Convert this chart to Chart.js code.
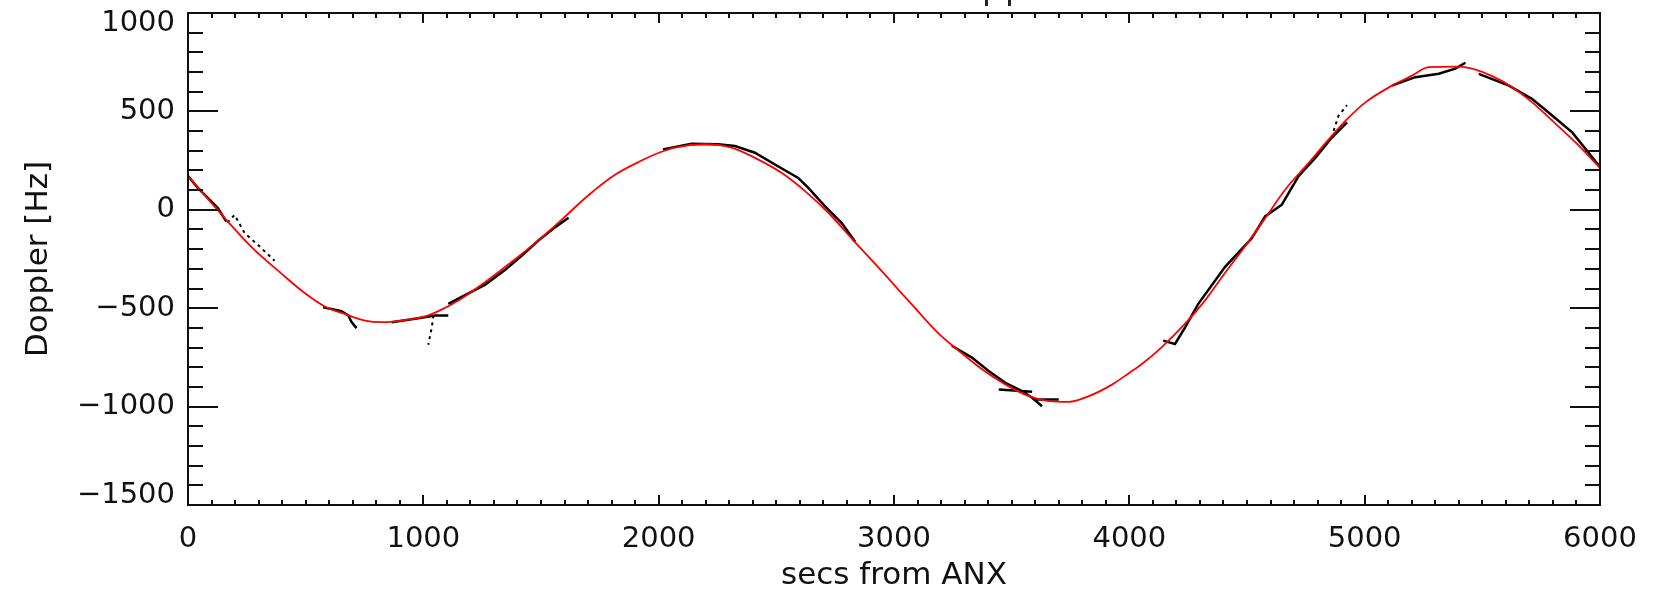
<!DOCTYPE html>
<html>
<head>
<meta charset="utf-8">
<script src="https://cdn.jsdelivr.net/npm/chart.js@4/dist/chart.umd.min.js"></script>
<style>
  html, body { margin: 0; padding: 0; background: #fff; }
  canvas { display: block; }
</style>
</head>
<body>
<canvas id="c" width="1653" height="607"></canvas>
<script>
// ---- axis settings ----
const X_MIN = 0, X_MAX = 6000, X_MAJOR = 1000, X_MINOR = 100;
const Y_MIN = -1500, Y_MAX = 1000, Y_MAJOR = 500, Y_MINOR = 100;
const X_TITLE = 'secs from ANX';
const Y_TITLE = 'Doppler [Hz]';

// ---- model Doppler curve (red) ----
const modelT = [0,163,269,397,496,581,666,752,823,908,1007,1064,1149,1263,1376,1490,1603,1688,1816,1930,
  2001,2068,2196,2309,2409,2522,2622,2721,2835,2920,2977,3090,3189,3275,3374,3473,3573,3658,3743,3828,3928,
  3998,4052,4137,4236,4322,4407,4492,4577,4662,4762,4847,4918,5003,5116,5201,5272,5400,5457,5542,5627,5712,
  5798,5897,6000];
const modelD = [172,-51,-188,-324,-423,-491,-529,-563,-571,-563,-542,-515,-461,-367,-264,-154,-34,60,179,252,
  290,316,333,316,264,188,95,-15,-165,-275,-350,-500,-628,-716,-810,-887,-947,-972,-976,-947,-887,
  -830,-785,-699,-580,-460,-320,-185,-43,102,239,358,452,546,631,682,725,728,717,679,623,546,
  452,341,213];

// ---- measured Doppler (black, solid segments separated by null) ----
const measT = [0,42,84,127,163, null,
  574,652,681,695,716, null,
  865,979,1050,1106, null,
  1106,1263,1348,1419,1490,1561,1617, null,
  2018,2139,2253,2324,2409,2494,2593,2636,2707,2778,2835, null,
  3246,3331,3402,3473,3544,3587,3629, null,
  3445,3587, null,
  3601,3700, null,
  4144,4194,4237,4293,4407,4520,4577,4648,4719,4790,4861,4925, null,
  5116,5215,5315,5385,5428, null,
  5485,5613,5712,5798,5883,6003];
const measD = [171,111,60,9,-60, null,
  -495,-515,-537,-571,-601, null,
  -571,-551,-537,-537, null,
  -478,-380,-305,-232,-155,-88,-40, null,
  307,336,333,324,290,230,162,111,17,-68,-162, null,
  -691,-751,-819,-879,-921,-955,-998, null,
  -913,-925, null,
  -964,-964, null,
  -665,-682,-597,-478,-290,-145,-34,26,171,264,367,444, null,
  631,674,691,717,747, null,
  691,631,563,478,392,213];

// ---- measured Doppler (black, dotted/dashed pieces) ----
const dotT = [167,198,241,298,368, null, 1043,1036,1021, null, 4868,4889,4925];
const dotD = [-65,-26,-119,-179,-259, null, -537,-597,-686, null, 401,478,532];

function toPoints(xs, ys) {
  return xs.map((v, i) => (v === null ? { x: null, y: null } : { x: v, y: ys[i] }));
}
function fmt(v) { return v < 0 ? '\u2212' + Math.abs(v) : String(v); }

const FONT = 'DejaVu Sans';

const frameTicks = {
  id: 'frameTicks',
  afterDatasetsDraw(chart) {
    const { ctx, chartArea: a, scales } = chart;
    const xs = scales.x, ys = scales.y;
    ctx.save();
    ctx.strokeStyle = '#111';
    ctx.lineWidth = 2;
    ctx.strokeRect(a.left, a.top, a.right - a.left, a.bottom - a.top);
    ctx.beginPath();
    for (let v = X_MIN; v <= X_MAX; v += X_MINOR) {
      const p = Math.round(xs.getPixelForValue(v));
      const len = (v % X_MAJOR === 0) ? 10 : 5;
      ctx.moveTo(p, a.bottom); ctx.lineTo(p, a.bottom - len);
      ctx.moveTo(p, a.top); ctx.lineTo(p, a.top + len);
    }
    for (let v = Y_MIN; v <= Y_MAX; v += Y_MINOR) {
      const p = Math.round(ys.getPixelForValue(v));
      const len = (v % Y_MAJOR === 0) ? 30 : 15;
      ctx.moveTo(a.left, p); ctx.lineTo(a.left + len, p);
      ctx.moveTo(a.right, p); ctx.lineTo(a.right - len, p);
    }
    ctx.stroke();
    // descenders of the clipped title above the plot
    ctx.fillStyle = '#222';
    ctx.fillRect(985, 0, 3, 6);
    ctx.fillRect(1008, 0, 3, 6);
    ctx.restore();
  }
};

new Chart(document.getElementById('c'), {
  type: 'scatter',
  data: {
    datasets: [
      {
        label: 'model',
        data: toPoints(modelT, modelD),
        showLine: true,
        borderColor: '#ff0000',
        borderWidth: 1.8,
        pointRadius: 0,
        cubicInterpolationMode: 'monotone',
        order: 0
      },
      {
        label: 'measured',
        data: toPoints(measT, measD),
        showLine: true,
        spanGaps: false,
        borderColor: '#000',
        borderWidth: 2.5,
        pointRadius: 0,
        tension: 0,
        order: 1
      },
      {
        label: 'measured (sparse)',
        data: toPoints(dotT, dotD),
        showLine: true,
        spanGaps: false,
        borderColor: '#000',
        borderWidth: 2,
        borderDash: [3, 4],
        pointRadius: 0,
        tension: 0,
        order: 2
      }
    ]
  },
  options: {
    responsive: false,
    animation: false,
    devicePixelRatio: 1,
    layout: { padding: { left: 0, top: 13, right: 53, bottom: 0 } },
    plugins: { legend: { display: false }, tooltip: { enabled: false } },
    scales: {
      x: {
        type: 'linear',
        min: X_MIN, max: X_MAX,
        grid: { display: false, drawTicks: false },
        border: { display: false },
        ticks: {
          stepSize: X_MAJOR,
          maxRotation: 0,
          autoSkip: false,
          padding: 17,
          color: '#111',
          font: { family: FONT, size: 29 },
          callback: (v) => fmt(v)
        },
        title: {
          display: true,
          text: X_TITLE,
          color: '#111',
          font: { family: FONT, size: 31 },
          padding: { top: 0, bottom: 12 }
        },
        afterFit: (s) => { s.height = 102; s.paddingLeft = 0; s.paddingRight = 0; }
      },
      y: {
        type: 'linear',
        min: Y_MIN, max: Y_MAX,
        grid: { display: false, drawTicks: false },
        border: { display: false },
        ticks: {
          stepSize: Y_MAJOR,
          autoSkip: false,
          padding: 13,
          color: '#111',
          font: (ctx) => {
            const v = ctx.tick ? ctx.tick.value : 0;
            const edge = (v === Y_MAX || v === Y_MIN);
            return { family: FONT, size: 29, lineHeight: edge ? '20px' : 1.2 };
          },
          callback: (v) => {
            if (v === Y_MAX) return ['', fmt(v)];
            if (v === Y_MIN) return [fmt(v), ''];
            return fmt(v);
          }
        },
        title: {
          display: true,
          text: Y_TITLE,
          color: '#111',
          font: { family: FONT, size: 31 },
          padding: { top: 20, bottom: 0 }
        },
        afterFit: (s) => { s.width = 188; s.paddingTop = 0; s.paddingBottom = 0; }
      }
    }
  },
  plugins: [frameTicks]
});
</script>
</body>
</html>
